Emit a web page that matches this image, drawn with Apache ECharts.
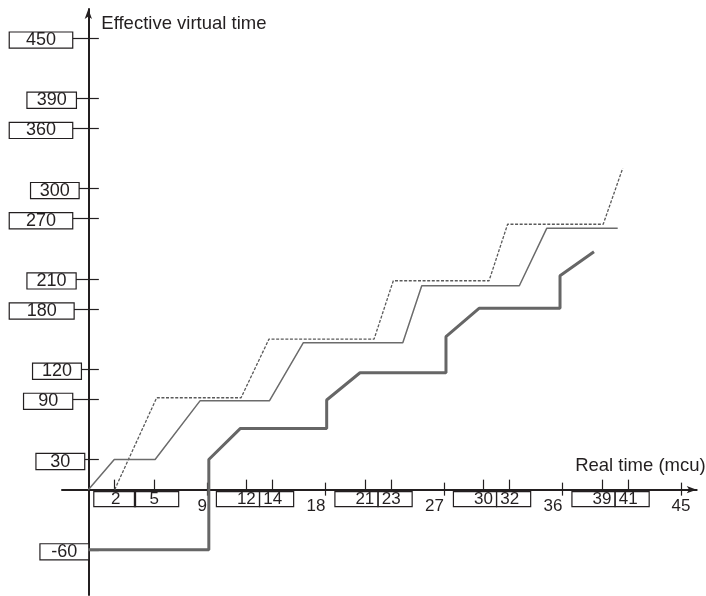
<!DOCTYPE html>
<html><head><meta charset="utf-8">
<script src="https://cdn.jsdelivr.net/npm/echarts@6/dist/echarts.min.js"></script>
<style>html,body{margin:0;padding:0;background:#fff}#c{width:706px;height:596px}</style>
</head><body><div id="c"></div>
<script>
// ---- data ----
const dashedX = [2, 5.19, 11.6, 13.72, 21.7, 23.16, 30.43, 31.84, 39.1, 40.58];
const dashedY = [0, 91.6, 91.6, 150.1, 150.1, 208.2, 208.2, 264.5, 264.5, 320.2];
const thinX = [0, 1.97, 5.07, 8.48, 13.75, 16.33, 23.88, 25.32, 32.73, 34.81, 40.2];
const thinY = [0, 30, 30, 88.5, 88.5, 146.4, 146.4, 203.2, 203.2, 260.4, 260.4];
const thickX = [0, 9.15, 9.15, 11.55, 18.1, 18.1, 20.63, 27.16, 27.16, 29.67, 35.82, 35.82, 38.4];
const thickY = [-60, -60, 30, 61, 61, 89.3, 116.5, 116.5, 152.4, 180.7, 180.7, 213.2, 237.1];
const yTickValues = [-60, 30, 90, 120, 180, 210, 270, 300, 360, 390, 450];
const yTickLabels = ['-60', '30', '90', '120', '180', '210', '270', '300', '360', '390', '450'];
const xMinorTicks = [2, 5, 12, 14, 21, 23, 30, 32, 39, 41];
const xMajorTicks = [9, 18, 27, 36, 45];
const xFirstOfPair = [2, 12, 21, 30, 39];
const xSecondOfPair = [5, 14, 23, 32, 41];
const xName = 'Real time (mcu)';
const yName = 'Effective virtual time';

// ---- styles / layout ----
const INK = '#231f20';
const FONT = 'Liberation Sans, Arial, sans-serif';
const W = 706, H = 596;
const GRID = {left: 62, right: 9.3, top: 9, bottom: 1};
const X_MIN = -2, X_MAX = 46.2, Y_MIN = -105, Y_MAX = 479;
// distance from grid edge to the zero lines (labels are laid out from grid edges)
const gridW = W - GRID.left - GRID.right, gridH = H - GRID.top - GRID.bottom;
const yAxisShift = (0 - X_MIN) / (X_MAX - X_MIN) * gridW;
const xAxisShift = (0 - Y_MIN) / (Y_MAX - Y_MIN) * gridH;

const yBoxWidth = [48.6, 48.6, 49, 48.7, 64.7, 49, 63.3, 48.4, 63.3, 49.3, 63.3];
const yBoxGap = [0.2, 4.2, 16.2, 7.5, 14.8, 12.8, 16.2, 9.8, 16.2, 12.5, 16.2];

const yRich = {};
yTickValues.forEach((v, i) => {
  yRich['b' + i] = {width: yBoxWidth[i] - 1, height: 15, lineHeight: 15, align: 'center',
    fontSize: 18, fontFamily: FONT, color: INK, borderColor: INK, borderWidth: 1.2, backgroundColor: '#fff'};
  yRich['g' + i] = {width: yBoxGap[i], height: 1, lineHeight: 1, align: 'center', fontSize: 1};
});

const boxBase = {fontSize: 17, fontFamily: FONT, color: INK, height: 15, lineHeight: 15,
  align: 'center', borderColor: INK, borderWidth: 1.2};
const xRich = {
  p1: Object.assign({}, boxBase, {padding: [0, 15, 0, 17.3]}),
  p2: Object.assign({}, boxBase, {padding: [0, 19.8, 0, 15]}),
  f: Object.assign({}, boxBase, {padding: [0, 3.7, 0, 20.5]}),
  s: Object.assign({}, boxBase, {padding: [0, 11.5, 0, 3.7]}),
  spF: {width: 16.8, height: 1, lineHeight: 1, fontSize: 1, align: 'center'},
  spS: {width: 7.8, height: 1, lineHeight: 1, fontSize: 1, align: 'center'},
  sp2: {width: 4.75, height: 1, lineHeight: 1, fontSize: 1, align: 'center'},
  m: {fontSize: 17, fontFamily: FONT, color: INK, lineHeight: 17, padding: [12, 0, 0, 0], align: 'center'},
  r1: {width: 9.45, height: 1, lineHeight: 1, fontSize: 1, align: 'center'},
  r2: {width: 18.9, height: 1, lineHeight: 1, fontSize: 1, align: 'center'}
};
function xLabel(v) {
  const t = String(v);
  if (v === 0) return '';  // origin: no label
  if (v === 2) return '{p1|' + t + '}';
  if (v === 5) return '{sp2|\u00a0}{p2|' + t + '}';
  if (xFirstOfPair.indexOf(v) >= 0) return '{f|' + t + '}{spF|\u00a0}';
  if (xSecondOfPair.indexOf(v) >= 0) return '{spS|\u00a0}{s|' + t + '}';
  if (v === 45) return '{m|' + t + '}';
  return '{m|' + t + '}' + (t.length === 1 ? '{r1|\u00a0}' : '{r2|\u00a0}');
}
const xAllLabels = [0].concat(xMinorTicks, xMajorTicks).sort((a, b) => a - b);

const pts = (xs, ys) => xs.map((x, i) => [x, ys[i]]);

const hiddenLine = {show: true, onZero: true, onZeroAxisIndex: 0, lineStyle: {opacity: 0}};
const chart = echarts.init(document.getElementById('c'), null, {renderer: 'canvas'});
chart.setOption({
  animation: false,
  backgroundColor: '#fff',
  grid: Object.assign({outerBoundsMode: 'none'}, GRID),
  xAxis: [
    {type: 'value', min: X_MIN, max: X_MAX, position: 'bottom',
     axisLine: {show: true, onZero: true, onZeroAxisIndex: 0, symbol: ['none', 'arrow'], symbolSize: [5.5, 10],
       lineStyle: {color: INK, width: 2}},
     axisTick: {show: true, customValues: xMinorTicks, inside: true, length: 10, lineStyle: {color: INK, width: 1.2}},
     axisLabel: {show: true, customValues: xAllLabels, margin: 2 - xAxisShift, formatter: xLabel, rich: xRich,
       hideOverlap: false, showMinLabel: true, showMaxLabel: true},
     splitLine: {show: false},
     name: xName, nameLocation: 'end', nameGap: 9, nameMoveOverlap: false,
     nameTextStyle: {fontSize: 18.5, fontFamily: FONT, color: INK, align: 'right', verticalAlign: 'bottom',
       lineHeight: 20, padding: [0, 0, 14, 0]}},
    {type: 'value', min: X_MIN, max: X_MAX, position: 'bottom', axisLine: hiddenLine,
     axisTick: {show: true, customValues: xMajorTicks, inside: true, length: 7, lineStyle: {color: INK, width: 1.2}},
     axisLabel: {show: false}, splitLine: {show: false}},
    {type: 'value', min: X_MIN, max: X_MAX, position: 'bottom', axisLine: hiddenLine,
     axisTick: {show: true, customValues: xMajorTicks, inside: false, length: 6, lineStyle: {color: INK, width: 1.2}},
     axisLabel: {show: false}, splitLine: {show: false}}
  ],
  yAxis: [
    {type: 'value', min: Y_MIN, max: Y_MAX, position: 'left',
     axisLine: {show: true, onZero: true, onZeroAxisIndex: 0, symbol: ['none', 'arrow'], symbolSize: [5.5, 10],
       lineStyle: {color: INK, width: 2}},
     axisTick: {show: true, customValues: yTickValues, inside: false, length: 16, lineStyle: {color: INK, width: 1.2}},
     axisLabel: {show: true, customValues: yTickValues, margin: -yAxisShift, padding: [4, 0, 0, 0], rich: yRich,
       showMinLabel: true, showMaxLabel: true,
       formatter: (v) => { const i = yTickValues.indexOf(v); return '{b' + i + '|' + yTickLabels[i] + '}{g' + i + '|\u00a0}'; }},
     splitLine: {show: false},
     name: yName, nameLocation: 'end', nameGap: -15, nameMoveOverlap: false,
     nameTextStyle: {fontSize: 18.5, fontFamily: FONT, color: INK, align: 'left', verticalAlign: 'middle',
       padding: [0, 0, 0, 13]}},
    {type: 'value', min: Y_MIN, max: Y_MAX, position: 'left', axisLine: hiddenLine,
     axisTick: {show: true, customValues: yTickValues, inside: true, length: 10.5, lineStyle: {color: INK, width: 1.2}},
     axisLabel: {show: false}, splitLine: {show: false}}
  ],
  series: [
    {type: 'line', data: pts(dashedX, dashedY), showSymbol: false, symbol: 'none', z: 3,
     lineStyle: {color: '#5a5a5a', width: 1.3, type: [3, 1.6]}},
    {type: 'line', data: pts(thinX, thinY), showSymbol: false, symbol: 'none', z: 3,
     lineStyle: {color: '#6b6b6b', width: 1.5}},
    {type: 'line', data: pts(thickX, thickY), showSymbol: false, symbol: 'none', z: 4,
     lineStyle: {color: '#666666', width: 3}}
  ]
});
</script></body></html>
